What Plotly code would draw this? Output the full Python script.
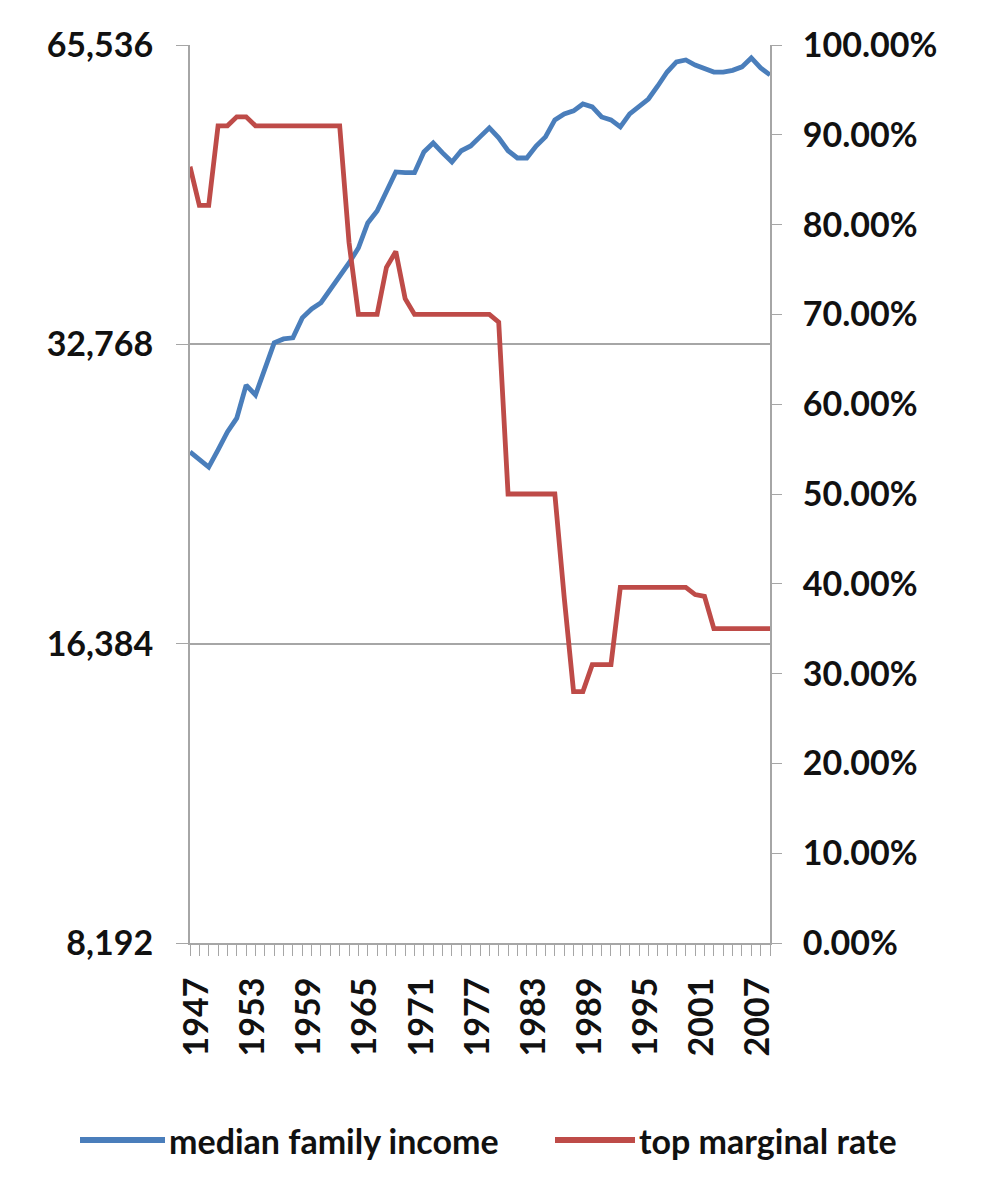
import plotly.graph_objects as go

# years 1947-2009
years = list(range(1947, 2010))

# median family income
median_income = [
    25540, 25060, 24660, 25660, 26750, 27620, 29820, 29140, 31030, 32880,
    33180, 33270, 34840, 35570, 36080, 37150, 38310, 39560, 40960, 43400,
    44620, 46840, 48840, 48760, 48760, 51160, 52230, 51050, 49980, 51300,
    51870, 52980, 54090, 52860, 51300, 50450, 50450, 51870, 52980, 55100,
    55870, 56260, 57170, 56790, 55480, 55100, 54210, 55870, 56910, 57830,
    59600, 61560, 63010, 63300, 62570, 62000, 61560, 61560, 61800, 62300,
    63600, 62150, 61150,
]

# top marginal income tax rate (fraction, right axis)
top_rate = [
    0.8645, 0.8213, 0.8213, 0.91, 0.91, 0.92, 0.92, 0.91, 0.91, 0.91,
    0.91, 0.91, 0.91, 0.91, 0.91, 0.91, 0.91, 0.78, 0.70, 0.70,
    0.70, 0.7525, 0.77, 0.7175, 0.70, 0.70, 0.70, 0.70, 0.70, 0.70,
    0.70, 0.70, 0.70, 0.69125, 0.50, 0.50, 0.50, 0.50, 0.50, 0.50,
    0.385, 0.28, 0.28, 0.31, 0.31, 0.31, 0.396, 0.396, 0.396, 0.396,
    0.396, 0.396, 0.396, 0.396, 0.388, 0.386, 0.35, 0.35, 0.35, 0.35,
    0.35, 0.35, 0.35,
]

income_ticks = [8192, 16384, 32768, 65536]
income_ticktext = [f"{v:,}" for v in income_ticks]
series_names = ["median family income", "top marginal rate"]

BLUE = "#4A7EBB"
RED = "#BE4B48"
AXIS = "#A6A6A6"
FONT = dict(family="Lato, Arial, sans-serif", size=34, color="#111111", weight="bold")

# plot box in figure pixels (the page adds an 8px body margin)
PL, PT, PR, PB = 182, 37, 762, 935

fig = go.Figure()
fig.add_trace(go.Scatter(x=years, y=median_income, mode="lines",
                         name=series_names[0],
                         line=dict(color=BLUE, width=4.8)))
fig.add_trace(go.Scatter(x=years, y=top_rate, mode="lines",
                         name=series_names[1], yaxis="y2",
                         line=dict(color=RED, width=4.8)))

# hand-drawn legend below the plot (long line samples like the original)
def px_x(p):
    return (p - PL) / (PR - PL)

def px_y(p):
    return (PB - p) / (PB - PT)

legend_items = [(series_names[0], BLUE, 72, 157), (series_names[1], RED, 547, 627)]
for name, color, x0, x1 in legend_items:
    fig.add_shape(type="line", xref="paper", yref="paper",
                  x0=px_x(x0), x1=px_x(x1), y0=px_y(1132), y1=px_y(1132),
                  line=dict(color=color, width=6))
    fig.add_annotation(xref="paper", yref="paper", x=px_x(x1 + 2), y=px_y(1132),
                       xanchor="left", yanchor="middle", showarrow=False,
                       text=name, font=dict(FONT, size=34))

fig.update_layout(
    width=986, height=1200,
    paper_bgcolor="#FFFFFF", plot_bgcolor="#FFFFFF",
    font=FONT,
    margin=dict(l=PL, r=986 - PR, t=PT, b=1200 - PB, autoexpand=False),
    showlegend=False,
    xaxis=dict(
        range=[1947, 2009], tick0=1947, dtick=6,
        tickangle=-90, ticks="outside", ticklen=11, tickcolor=AXIS,
        minor=dict(dtick=1, ticks="outside", ticklen=11, tickcolor=AXIS),
        showline=True, linecolor=AXIS, linewidth=2,
        showgrid=False, zeroline=False, ticklabelstandoff=8,
        ticklabelshift=7, automargin=False,
    ),
    yaxis=dict(
        type="log", range=[3.91339, 4.81648],
        tickvals=income_ticks, ticktext=income_ticktext,
        ticks="outside", ticklen=12, tickcolor=AXIS,
        showline=True, linecolor=AXIS, linewidth=2,
        showgrid=True, gridcolor=AXIS, gridwidth=1.5,
        zeroline=False, ticklabelstandoff=16, automargin=False,
    ),
    yaxis2=dict(
        overlaying="y", side="right", range=[0, 1], dtick=0.1,
        tickformat=".2%", ticks="outside", ticklen=10, tickcolor=AXIS,
        showline=True, linecolor=AXIS, linewidth=2,
        showgrid=False, zeroline=False, ticklabelstandoff=14,
        automargin=False,
    ),
)

fig.write_html("out.html")
